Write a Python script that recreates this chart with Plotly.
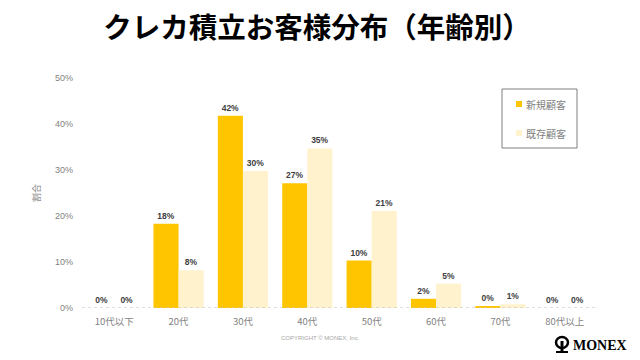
import plotly.graph_objects as go

categories = ["10代以下", "20代", "30代", "40代", "50代", "60代", "70代", "80代以上"]
new_customers = [0.0, 18.3, 41.8, 27.1, 10.3, 2.0, 0.3, 0.0]
existing_customers = [0.0, 8.2, 29.8, 34.7, 21.1, 5.3, 0.8, 0.0]
series_names = ["新規顧客", "既存顧客"]
series_colors = ["#FFC600", "#FFF2CC"]
y_ticks = [0, 10, 20, 30, 40, 50]
y_tick_labels = [f"{v}%" for v in y_ticks]

base_font = "Liberation Sans, Noto Sans CJK JP, sans-serif"
cjk_font = "Noto Sans CJK JP, sans-serif"

L, R, T, B = 82, 43, 78, 52
PW, PH = 640 - L - R, 360 - T - B


def px(x):
    return (x - L) / PW


def py(y):
    return (360 - B - y) / PH


fig = go.Figure()
for name, vals, col in zip(series_names, [new_customers, existing_customers], series_colors):
    fig.add_trace(go.Bar(
        x=categories, y=vals, name=name,
        marker=dict(color=col, line=dict(width=0)),
        text=[f"{v:.0f}%" for v in vals], textposition="outside",
        textfont=dict(size=8.5, color="#404040", family="Liberation Sans, sans-serif", weight="bold"),
        cliponaxis=False, showlegend=False, hoverinfo="skip",
    ))

fig.update_layout(
    width=640, height=360,
    margin=dict(l=L, r=R, t=T, b=B),
    paper_bgcolor="white", plot_bgcolor="white",
    barmode="group", bargap=0.22, bargroupgap=0,
    font=dict(family=base_font, color="#7F7F7F", size=9),
    title=dict(text="<b>クレカ積立お客様分布（年齢別）</b>", x=317 / 640, xanchor="center",
               y=1 - 28 / 360, yanchor="middle",
               font=dict(family=cjk_font, size=28.5, color="#000000")),
    showlegend=False,
    xaxis=dict(showgrid=False, showline=False, ticks="", zeroline=False,
               ticklabelstandoff=6,
               tickfont=dict(family=cjk_font, size=9.5, color="#7F7F7F")),
    yaxis=dict(range=[0, 50], tickvals=y_ticks, ticktext=y_tick_labels,
               showgrid=False, zeroline=False, showline=False, ticks="",
               ticklabelstandoff=8,
               tickfont=dict(size=9, color="#7F7F7F"),
               title=dict(text="割合", font=dict(family=cjk_font, size=9, color="#8C8C8C"),
                          standoff=12)),
)

# dotted baseline
fig.add_shape(type="line", xref="paper", yref="y", x0=0, x1=1, y0=0, y1=0,
              line=dict(color="#BFBFBF", width=1, dash="dot"))

# legend box
fig.add_shape(type="rect", xref="paper", yref="paper",
              x0=px(502), x1=px(577), y0=py(148), y1=py(89),
              line=dict(color="#7F7F7F", width=1), fillcolor="white", layer="above")
for i, (name, col) in enumerate(zip(series_names, series_colors)):
    yc = 104 + 29 * i
    fig.add_shape(type="rect", xref="paper", yref="paper",
                  x0=px(516), x1=px(522), y0=py(yc + 3), y1=py(yc - 3),
                  line=dict(width=0), fillcolor=col, layer="above")
    fig.add_annotation(text=name, xref="paper", yref="paper", x=px(524), y=py(yc),
                       xanchor="left", yanchor="middle", showarrow=False,
                       font=dict(family=cjk_font, size=10, color="#7F7F7F"))

fig.add_annotation(text="COPYRIGHT © MONEX, Inc.", xref="paper", yref="paper",
                   x=px(320), y=py(343), showarrow=False,
                   font=dict(size=6, color="#A6A6A6", family=base_font))
fig.add_annotation(text="<b>MONEX</b>", xref="paper", yref="paper",
                   x=px(571), y=py(345), xanchor="left", yanchor="middle",
                   showarrow=False,
                   font=dict(size=14, color="#000000", family="Liberation Serif, DejaVu Serif, serif"))
# simple logo glyph
fig.add_shape(type="circle", xref="paper", yref="paper",
              x0=px(556), x1=px(568), y0=py(348), y1=py(337),
              line=dict(color="#000000", width=2.5))
fig.add_shape(type="line", xref="paper", yref="paper",
              x0=px(562), x1=px(562), y0=py(341), y1=py(352),
              line=dict(color="#000000", width=3))
fig.add_shape(type="line", xref="paper", yref="paper",
              x0=px(556), x1=px(568), y0=py(352), y1=py(352),
              line=dict(color="#000000", width=2))

fig.write_html("out.html", config={"displayModeBar": False},
               post_script="document.body.style.margin='0';document.body.style.padding='0';")
